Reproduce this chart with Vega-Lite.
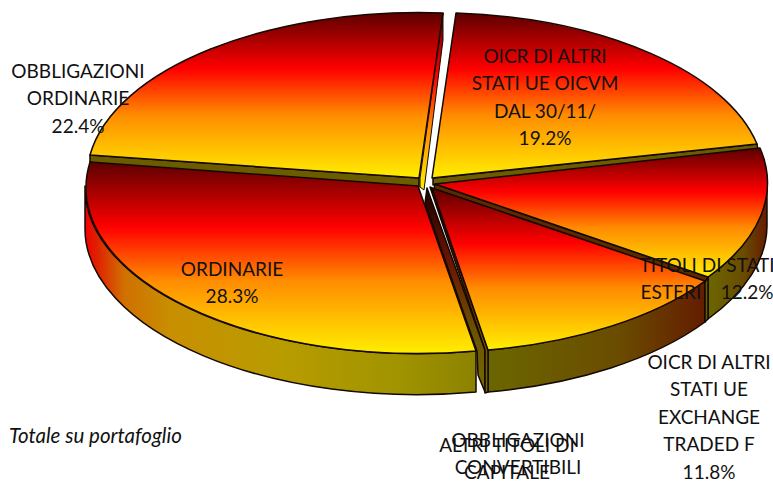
{
"$schema":"https://vega.github.io/schema/vega-lite/v6.json",
"width":773,"height":481,"padding":0,
"autosize":"none",
"background":"white",
"config":{"view":{"stroke":null}},
"datasets":{"slices":[
{"label":"OBBLIGAZIONI ORDINARIE","value":22.4,"text":"OBBLIGAZIONI\nORDINARIE\n22.4%"},
{"label":"OICR DI ALTRI STATI UE OICVM DAL 30/11/","value":19.2,"text":"OICR DI ALTRI\nSTATI UE OICVM\nDAL 30/11/\n19.2%"},
{"label":"TITOLI DI STATI ESTERI","value":12.2,"text":"TITOLI DI STATI\nESTERI\u00a0\u00a0\u00a0\u00a012.2%"},
{"label":"OICR DI ALTRI STATI UE EXCHANGE TRADED F","value":11.8,"text":"OICR DI ALTRI\nSTATI UE\nEXCHANGE\nTRADED F\n11.8%"},
{"label":"OBBLIGAZIONI CONVERTIBILI","value":3.4,"text":"OBBLIGAZIONI\nCONVERTIBILI"},
{"label":"ALTRI TITOLI DI CAPITALE","value":3.1,"text":"ALTRI TITOLI DI\nCAPITALE"},
{"label":"ORDINARIE","value":28.3,"text":"ORDINARIE\n28.3%"}
]},
"data":{"name":"slices"},
"resolve":{"scale":{"x":"independent","y":"independent","shape":"independent"}},
"layer":[
{"transform":[{"filter":"datum.label==='ORDINARIE'"}],
 "mark":{"type":"point","filled":true,"opacity":1,"size":4,"stroke":"#140800","strokeWidth":1.5,"strokeJoin":"round",
  "fill":{"gradient":"linear","x1":0,"y1":0,"x2":1,"y2":0,"stops":[{"offset":0,"color":"#f00000"},{"offset":0.03,"color":"#e02000"},{"offset":0.1,"color":"#d07000"},{"offset":0.22,"color":"#c88f00"},{"offset":0.5,"color":"#b89c00"},{"offset":0.8,"color":"#a09400"},{"offset":1,"color":"#8c8200"}]}},
 "encoding":{"shape":{"field":"label","type":"nominal","legend":null,"scale":{"domain":["ORDINARIE"],"range":["M-301.5,-54.5A332,166,0,0,0,89.5,110.5L89.5,151.5A332,166,0,0,1,-301.5,-12.5Z"]}}}},
{"transform":[{"filter":"datum.value===12.2||datum.value===11.8"}],
 "mark":{"type":"point","filled":true,"opacity":1,"size":4,"stroke":"#140800","strokeWidth":1.5,"strokeJoin":"round",
  "fill":{"gradient":"linear","x1":0,"y1":0,"x2":1,"y2":0,"stops":[{"offset":0,"color":"#6b6600"},{"offset":0.6,"color":"#6a4c00"},{"offset":1,"color":"#641c00"}]}},
 "encoding":{"shape":{"field":"label","type":"nominal","legend":null,"scale":{"domain":["TITOLI DI STATI ESTERI","OICR DI ALTRI STATI UE EXCHANGE TRADED F"],"range":["M380.5,-56.5A332,165,0,0,1,321.5,36.5L321.5,78.5A332,165,0,0,0,380.5,-14.5Z","M318.5,40.5A332,165,0,0,1,101.5,109.5L101.5,151.5A332,165,0,0,0,318.5,81.5Z"]}}}},
{"transform":[{"filter":"datum.value===22.4||datum.value===19.2||datum.value===12.2"}],
 "mark":{"type":"point","filled":true,"opacity":1,"size":4,"fill":"#6b5c00","stroke":"#140800","strokeWidth":1.5,"strokeJoin":"round"},
 "encoding":{"shape":{"field":"label","type":"nominal","legend":null,"scale":{"domain":["OBBLIGAZIONI ORDINARIE","OICR DI ALTRI STATI UE OICVM DAL 30/11/","TITOLI DI STATI ESTERI"],"range":["M-296.5,-85.5L32.5,-62.5L32.5,-53.5L-296.5,-77.5Z","M46.5,-62.5L370.5,-96.5L371.5,-90.5L46.5,-55.5Z","M318.5,40.5L321.5,36.5L321.5,78.5L318.5,81.5Z"]}}}},
{"transform":[{"filter":"datum.value===12.2"}],
 "mark":{"type":"point","filled":true,"opacity":1,"size":4,"fill":"#5a2a00","stroke":"#140800","strokeWidth":1.5,"strokeJoin":"round"},
 "encoding":{"shape":{"field":"label","type":"nominal","legend":null,"scale":{"domain":["TITOLI DI STATI ESTERI"],"range":["M48.5,-56.5L321.5,36.5L318.5,41.5L47.5,-51.5Z"]}}}},
{"transform":[{"filter":"datum.value===3.4||datum.value===3.1"}],
 "mark":{"type":"point","filled":true,"opacity":1,"size":4,"stroke":"#140800","strokeWidth":1.5,"strokeJoin":"round",
  "fill":{"gradient":"linear","x1":0,"y1":0,"x2":0,"y2":1,"stops":[{"offset":0,"color":"#1e0000"},{"offset":0.35,"color":"#6a1400"},{"offset":0.7,"color":"#6b5200"},{"offset":1,"color":"#746a00"}]}},
 "encoding":{"shape":{"field":"label","type":"nominal","legend":null,"scale":{"domain":["OBBLIGAZIONI CONVERTIBILI","ALTRI TITOLI DI CAPITALE"],"range":["M40.5,-52.5L38.5,-37.5L90.5,110.5L91.5,134.5L98.5,151.5L98.5,109.5Z","M43.5,-53.5L98.5,109.5L98.5,152.5L101.5,151.5L101.5,109.5L45.5,-52.5Z"]}}}},
{"transform":[{"filter":"datum.value===22.4"}],
 "mark":{"type":"point","filled":true,"opacity":1,"size":4,"stroke":"#140800","strokeWidth":1,"strokeJoin":"round",
  "fill":{"gradient":"linear","x1":0,"y1":0,"x2":0,"y2":1,"stops":[{"offset":0,"color":"#5c0000"},{"offset":0.36,"color":"#ff0000"},{"offset":0.65,"color":"#ff8c00"},{"offset":1,"color":"#ffee00"}]}},
 "encoding":{"shape":{"field":"label","type":"nominal","legend":null,"scale":{"domain":["OBBLIGAZIONI ORDINARIE"],"range":["M56.5,-227.5L33.5,-62.5L33.5,-53.5L37.5,-50.5L56.5,-200.5Z"]}}}},
{"transform":[{"filter":"datum.value>12||datum.value===11.8"}],
 "mark":{"type":"point","filled":true,"opacity":1,"size":4,"stroke":"#140800","strokeWidth":1.5,"strokeJoin":"round",
  "fill":{"gradient":"linear","x1":0,"y1":0,"x2":0,"y2":1,"stops":[{"offset":0,"color":"#5c0000"},{"offset":0.34,"color":"#ff0000"},{"offset":0.62,"color":"#ff8c00"},{"offset":1,"color":"#ffee00"}]}},
 "encoding":{"shape":{"field":"label","type":"nominal","legend":null,"scale":{"domain":["OBBLIGAZIONI ORDINARIE","OICR DI ALTRI STATI UE OICVM DAL 30/11/","TITOLI DI STATI ESTERI","OICR DI ALTRI STATI UE EXCHANGE TRADED F","ORDINARIE"],"range":["M32.5,-62.5L56.5,-227.5A332,165,0,0,0,-296.5,-85.5Z","M45.5,-62.5L69.5,-227.5A332,165,0,0,1,370.5,-96.5Z","M48.5,-56.5L373.5,-92.5A332,165,0,0,1,321.5,36.5Z","M45.5,-52.5L318.5,40.5A332,165,0,0,1,101.5,109.5Z","M31.5,-54.5L-296.5,-78.5A332,166,0,0,0,89.5,110.5Z"]}}}},
{"mark":{"type":"text","font":"Lato","fontSize":19,"color":"#111111","lineBreak":"\n","lineHeight":27.4,"align":"center","baseline":"middle"},
 "encoding":{
  "text":{"field":"text","type":"nominal"},
  "x":{"field":"value","type":"quantitative","axis":null,"scale":{"type":"linear","zero":false,"nice":false,"domain":[3.1,3.4,11.8,12.2,19.2,22.4,28.3],"range":[507,518,709,707,545,78,232]}},
  "y":{"field":"value","type":"quantitative","axis":null,"scale":{"type":"linear","zero":false,"nice":false,"domain":[3.1,3.4,11.8,12.2,19.2,22.4,28.3],"range":[446,441,363,266,57,72,270]}}}},
{"data":{"values":[{"note":"Totale su portafoglio"}]},
 "mark":{"type":"text","font":"Lato","fontSize":20.5,"fontStyle":"italic","color":"#111111","align":"left","baseline":"middle"},
 "encoding":{
  "text":{"field":"note","type":"nominal"},
  "x":{"field":"note","type":"nominal","axis":null,"scale":{"range":[9,9]}},
  "y":{"field":"note","type":"nominal","axis":null,"scale":{"range":[437,437]}}}}
]}
